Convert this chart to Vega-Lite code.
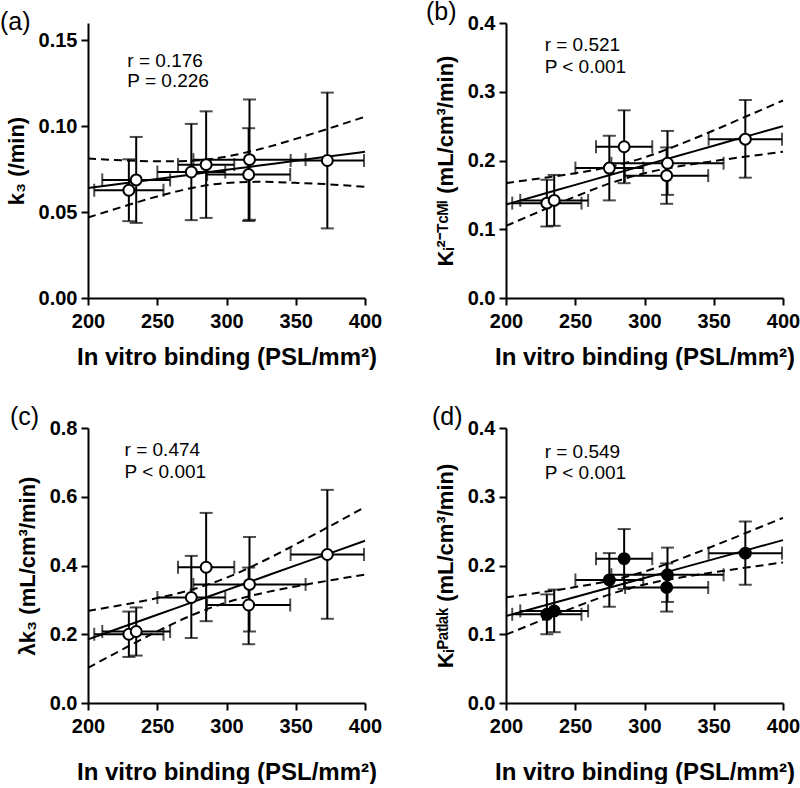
{
  "$schema": "https://vega.github.io/schema/vega-lite/v6.json",
  "padding": 0,
  "background": "white",
  "datasets": {
    "pts": [
      {"panel": "a", "x": 229.5, "xlo": 204.5, "xhi": 254.5, "y": 0.0627, "ylo": 0.0447, "yhi": 0.0807},
      {"panel": "a", "x": 234.8, "xlo": 210.3, "xhi": 259.3, "y": 0.0687, "ylo": 0.0437, "yhi": 0.0937},
      {"panel": "a", "x": 274.6, "xlo": 250.1, "xhi": 299.1, "y": 0.0733, "ylo": 0.0453, "yhi": 0.1013},
      {"panel": "a", "x": 285.3, "xlo": 265.0, "xhi": 305.6, "y": 0.0776, "ylo": 0.0466, "yhi": 0.1086},
      {"panel": "a", "x": 316.6, "xlo": 276.1, "xhi": 357.1, "y": 0.0805, "ylo": 0.0455, "yhi": 0.1155},
      {"panel": "a", "x": 316.0, "xlo": 286.0, "xhi": 346.0, "y": 0.0718, "ylo": 0.0448, "yhi": 0.0988},
      {"panel": "a", "x": 372.8, "xlo": 346.3, "xhi": 399.3, "y": 0.0800, "ylo": 0.0405, "yhi": 0.1195},
      {"panel": "b", "x": 229.5, "xlo": 204.5, "xhi": 254.5, "y": 0.138, "ylo": 0.104, "yhi": 0.172},
      {"panel": "b", "x": 234.8, "xlo": 210.3, "xhi": 259.3, "y": 0.142, "ylo": 0.105, "yhi": 0.179},
      {"panel": "b", "x": 274.6, "xlo": 250.1, "xhi": 299.1, "y": 0.189, "ylo": 0.142, "yhi": 0.236},
      {"panel": "b", "x": 285.3, "xlo": 265.0, "xhi": 305.6, "y": 0.220, "ylo": 0.167, "yhi": 0.273},
      {"panel": "b", "x": 316.6, "xlo": 276.1, "xhi": 357.1, "y": 0.196, "ylo": 0.150, "yhi": 0.243},
      {"panel": "b", "x": 316.0, "xlo": 286.0, "xhi": 346.0, "y": 0.178, "ylo": 0.137, "yhi": 0.219},
      {"panel": "b", "x": 372.8, "xlo": 346.3, "xhi": 399.3, "y": 0.231, "ylo": 0.175, "yhi": 0.288},
      {"panel": "c", "x": 229.5, "xlo": 204.5, "xhi": 254.5, "y": 0.200, "ylo": 0.134, "yhi": 0.266},
      {"panel": "c", "x": 234.8, "xlo": 210.3, "xhi": 259.3, "y": 0.208, "ylo": 0.138, "yhi": 0.278},
      {"panel": "c", "x": 274.6, "xlo": 250.1, "xhi": 299.1, "y": 0.307, "ylo": 0.189, "yhi": 0.428},
      {"panel": "c", "x": 285.3, "xlo": 265.0, "xhi": 305.6, "y": 0.395, "ylo": 0.238, "yhi": 0.553},
      {"panel": "c", "x": 316.6, "xlo": 276.1, "xhi": 357.1, "y": 0.345, "ylo": 0.208, "yhi": 0.483},
      {"panel": "c", "x": 316.0, "xlo": 286.0, "xhi": 346.0, "y": 0.285, "ylo": 0.171, "yhi": 0.394},
      {"panel": "c", "x": 372.8, "xlo": 346.3, "xhi": 399.3, "y": 0.432, "ylo": 0.245, "yhi": 0.620},
      {"panel": "d", "x": 229.5, "xlo": 204.5, "xhi": 254.5, "y": 0.129, "ylo": 0.100, "yhi": 0.158},
      {"panel": "d", "x": 234.8, "xlo": 210.3, "xhi": 259.3, "y": 0.134, "ylo": 0.103, "yhi": 0.165},
      {"panel": "d", "x": 274.6, "xlo": 250.1, "xhi": 299.1, "y": 0.179, "ylo": 0.140, "yhi": 0.218},
      {"panel": "d", "x": 285.3, "xlo": 265.0, "xhi": 305.6, "y": 0.210, "ylo": 0.166, "yhi": 0.253},
      {"panel": "d", "x": 316.6, "xlo": 276.1, "xhi": 357.1, "y": 0.1865, "ylo": 0.147, "yhi": 0.226},
      {"panel": "d", "x": 316.0, "xlo": 286.0, "xhi": 346.0, "y": 0.168, "ylo": 0.133, "yhi": 0.203},
      {"panel": "d", "x": 372.8, "xlo": 346.3, "xhi": 399.3, "y": 0.218, "ylo": 0.172, "yhi": 0.264}
    ],
    "fit": [
      {"panel": "a", "x": 200, "y": 0.0640, "lo": 0.0468, "hi": 0.0812},
      {"panel": "a", "x": 225, "y": 0.0666, "lo": 0.0531, "hi": 0.0801},
      {"panel": "a", "x": 250, "y": 0.0693, "lo": 0.0591, "hi": 0.0795},
      {"panel": "a", "x": 275, "y": 0.0719, "lo": 0.0640, "hi": 0.0798},
      {"panel": "a", "x": 300, "y": 0.0746, "lo": 0.0669, "hi": 0.0823},
      {"panel": "a", "x": 325, "y": 0.0772, "lo": 0.0676, "hi": 0.0868},
      {"panel": "a", "x": 350, "y": 0.0798, "lo": 0.0670, "hi": 0.0926},
      {"panel": "a", "x": 375, "y": 0.0825, "lo": 0.0661, "hi": 0.0989},
      {"panel": "a", "x": 400, "y": 0.0851, "lo": 0.0647, "hi": 0.1055},
      {"panel": "b", "x": 200, "y": 0.1360, "lo": 0.1048, "hi": 0.1672},
      {"panel": "b", "x": 225, "y": 0.1503, "lo": 0.1265, "hi": 0.1741},
      {"panel": "b", "x": 250, "y": 0.1645, "lo": 0.1475, "hi": 0.1815},
      {"panel": "b", "x": 275, "y": 0.1788, "lo": 0.1668, "hi": 0.1908},
      {"panel": "b", "x": 300, "y": 0.1930, "lo": 0.1815, "hi": 0.2045},
      {"panel": "b", "x": 325, "y": 0.2073, "lo": 0.1915, "hi": 0.2231},
      {"panel": "b", "x": 350, "y": 0.2215, "lo": 0.1992, "hi": 0.2438},
      {"panel": "b", "x": 375, "y": 0.2358, "lo": 0.2061, "hi": 0.2655},
      {"panel": "b", "x": 400, "y": 0.2500, "lo": 0.2127, "hi": 0.2873},
      {"panel": "c", "x": 200, "y": 0.1850, "lo": 0.1020, "hi": 0.2680},
      {"panel": "c", "x": 225, "y": 0.2209, "lo": 0.1563, "hi": 0.2855},
      {"panel": "c", "x": 250, "y": 0.2568, "lo": 0.2084, "hi": 0.3052},
      {"panel": "c", "x": 275, "y": 0.2926, "lo": 0.2554, "hi": 0.3298},
      {"panel": "c", "x": 300, "y": 0.3285, "lo": 0.2925, "hi": 0.3645},
      {"panel": "c", "x": 325, "y": 0.3644, "lo": 0.3188, "hi": 0.4100},
      {"panel": "c", "x": 350, "y": 0.4003, "lo": 0.3391, "hi": 0.4615},
      {"panel": "c", "x": 375, "y": 0.4361, "lo": 0.3569, "hi": 0.5153},
      {"panel": "c", "x": 400, "y": 0.4720, "lo": 0.3736, "hi": 0.5704},
      {"panel": "d", "x": 200, "y": 0.1265, "lo": 0.0995, "hi": 0.1535},
      {"panel": "d", "x": 225, "y": 0.1403, "lo": 0.1198, "hi": 0.1608},
      {"panel": "d", "x": 250, "y": 0.1541, "lo": 0.1396, "hi": 0.1686},
      {"panel": "d", "x": 275, "y": 0.1679, "lo": 0.1580, "hi": 0.1779},
      {"panel": "d", "x": 300, "y": 0.1817, "lo": 0.1723, "hi": 0.1911},
      {"panel": "d", "x": 325, "y": 0.1955, "lo": 0.1821, "hi": 0.2089},
      {"panel": "d", "x": 350, "y": 0.2093, "lo": 0.1901, "hi": 0.2285},
      {"panel": "d", "x": 375, "y": 0.2231, "lo": 0.1974, "hi": 0.2488},
      {"panel": "d", "x": 400, "y": 0.2369, "lo": 0.2045, "hi": 0.2693}
    ],
    "notes": [
      {"panel": "a", "x": 228.4, "y": 0.1346, "text": "r = 0.176"},
      {"panel": "a", "x": 228.4, "y": 0.1227, "text": "P = 0.226"},
      {"panel": "b", "x": 227.9, "y": 0.3589, "text": "r = 0.521"},
      {"panel": "b", "x": 227.9, "y": 0.3273, "text": "P < 0.001"},
      {"panel": "c", "x": 226.4, "y": 0.719, "text": "r = 0.474"},
      {"panel": "c", "x": 226.4, "y": 0.655, "text": "P < 0.001"},
      {"panel": "d", "x": 227.9, "y": 0.357, "text": "r = 0.549"},
      {"panel": "d", "x": 227.9, "y": 0.3255, "text": "P < 0.001"}
    ]
  },
  "config": {
    "font": "Liberation Sans",
    "view": {"stroke": null},
    "axis": {
      "grid": false,
      "domainColor": "black",
      "domainWidth": 2,
      "tickColor": "black",
      "tickWidth": 2,
      "tickSize": 7,
      "labelFont": "Liberation Sans",
      "labelFontSize": 20,
      "labelFontWeight": "bold",
      "labelColor": "black",
      "labelFlush": false,
      "labelPadding": 4,
      "titleFont": "Liberation Sans",
      "titleFontSize": 22,
      "titleFontWeight": "bold",
      "titleColor": "black"
    },
    "axisX": {"titlePadding": 14, "titleFontSize": 24, "labelPadding": 6},
    "axisY": {"titlePadding": 10},
    "title": {"font": "Liberation Sans", "fontSize": 25, "fontWeight": "normal", "color": "black", "anchor": "start", "frame": "group", "offset": -12}
  },
  "columns": 2,
  "bounds": "flush",
  "spacing": {"row": 130, "column": 141},
  "concat": [
    {
      "width": 277, "height": 275,
      "title": {"text": "(a)", "dx": -88},
      "layer": [
        {"data": {"name": "pts"}, "transform": [{"filter": "datum.panel === 'a'"}],
         "mark": {"type": "errorbar", "ticks": {"size": 13}, "thickness": 2, "color": "black"},
         "encoding": {
           "x": {"field": "xlo", "type": "quantitative", "scale": {"domain": [200, 400]}, "axis": {"values": [200, 250, 300, 350, 400], "title": "In vitro binding (PSL/mm²)"}},
           "x2": {"field": "xhi"},
           "y": {"field": "y", "type": "quantitative", "scale": {"domain": [0, 0.15]}, "axis": {"values": [0, 0.05, 0.1, 0.15], "format": ".2f", "title": "k₃ (/min)"}}}},
        {"data": {"name": "pts"}, "transform": [{"filter": "datum.panel === 'a'"}],
         "mark": {"type": "errorbar", "ticks": {"size": 13}, "thickness": 2, "color": "black"},
         "encoding": {
           "x": {"field": "x", "type": "quantitative", "scale": {"domain": [200, 400]}, "axis": {"values": [200, 250, 300, 350, 400], "title": "In vitro binding (PSL/mm²)"}},
           "y": {"field": "ylo", "type": "quantitative", "scale": {"domain": [0, 0.15]}, "axis": {"values": [0, 0.05, 0.1, 0.15], "format": ".2f", "title": "k₃ (/min)"}},
           "y2": {"field": "yhi"}}},
        {"data": {"name": "fit"}, "transform": [{"filter": "datum.panel === 'a'"}],
         "mark": {"type": "line", "color": "black", "strokeWidth": 2, "interpolate": "monotone"},
         "encoding": {"x": {"field": "x", "type": "quantitative"}, "y": {"field": "y", "type": "quantitative"}}},
        {"data": {"name": "fit"}, "transform": [{"filter": "datum.panel === 'a'"}],
         "mark": {"type": "line", "color": "black", "strokeWidth": 2, "strokeDash": [8, 5], "interpolate": "monotone"},
         "encoding": {"x": {"field": "x", "type": "quantitative"}, "y": {"field": "hi", "type": "quantitative"}}},
        {"data": {"name": "fit"}, "transform": [{"filter": "datum.panel === 'a'"}],
         "mark": {"type": "line", "color": "black", "strokeWidth": 2, "strokeDash": [8, 5], "interpolate": "monotone"},
         "encoding": {"x": {"field": "x", "type": "quantitative"}, "y": {"field": "lo", "type": "quantitative"}}},
        {"data": {"name": "pts"}, "transform": [{"filter": "datum.panel === 'a'"}],
         "mark": {"type": "point", "shape": "circle", "filled": true, "fill": "white", "stroke": "black", "strokeWidth": 2, "size": 120, "opacity": 1},
         "encoding": {"x": {"field": "x", "type": "quantitative"}, "y": {"field": "y", "type": "quantitative"}}},
        {"data": {"name": "notes"}, "transform": [{"filter": "datum.panel === 'a'"}],
         "mark": {"type": "text", "align": "left", "baseline": "alphabetic", "fontSize": 19, "color": "black", "font": "Liberation Sans"},
         "encoding": {"x": {"field": "x", "type": "quantitative"}, "y": {"field": "y", "type": "quantitative"}, "text": {"field": "text"}}}
      ]
    },
    {
      "width": 277, "height": 275,
      "title": {"text": "(b)", "dx": -80},
      "layer": [
        {"data": {"name": "pts"}, "transform": [{"filter": "datum.panel === 'b'"}],
         "mark": {"type": "errorbar", "ticks": {"size": 13}, "thickness": 2, "color": "black"},
         "encoding": {
           "x": {"field": "xlo", "type": "quantitative", "scale": {"domain": [200, 400]}, "axis": {"values": [200, 250, 300, 350, 400], "title": "In vitro binding (PSL/mm²)"}},
           "x2": {"field": "xhi"},
           "y": {"field": "y", "type": "quantitative", "scale": {"domain": [0, 0.4]}, "axis": {"values": [0, 0.1, 0.2, 0.3, 0.4], "format": ".1f", "title": "Kᵢ²⁻ᵀᶜᴹⁱ (mL/cm³/min)"}}}},
        {"data": {"name": "pts"}, "transform": [{"filter": "datum.panel === 'b'"}],
         "mark": {"type": "errorbar", "ticks": {"size": 13}, "thickness": 2, "color": "black"},
         "encoding": {
           "x": {"field": "x", "type": "quantitative", "scale": {"domain": [200, 400]}, "axis": {"values": [200, 250, 300, 350, 400], "title": "In vitro binding (PSL/mm²)"}},
           "y": {"field": "ylo", "type": "quantitative", "scale": {"domain": [0, 0.4]}, "axis": {"values": [0, 0.1, 0.2, 0.3, 0.4], "format": ".1f", "title": "Kᵢ²⁻ᵀᶜᴹⁱ (mL/cm³/min)"}},
           "y2": {"field": "yhi"}}},
        {"data": {"name": "fit"}, "transform": [{"filter": "datum.panel === 'b'"}],
         "mark": {"type": "line", "color": "black", "strokeWidth": 2, "interpolate": "monotone"},
         "encoding": {"x": {"field": "x", "type": "quantitative"}, "y": {"field": "y", "type": "quantitative"}}},
        {"data": {"name": "fit"}, "transform": [{"filter": "datum.panel === 'b'"}],
         "mark": {"type": "line", "color": "black", "strokeWidth": 2, "strokeDash": [8, 5], "interpolate": "monotone"},
         "encoding": {"x": {"field": "x", "type": "quantitative"}, "y": {"field": "hi", "type": "quantitative"}}},
        {"data": {"name": "fit"}, "transform": [{"filter": "datum.panel === 'b'"}],
         "mark": {"type": "line", "color": "black", "strokeWidth": 2, "strokeDash": [8, 5], "interpolate": "monotone"},
         "encoding": {"x": {"field": "x", "type": "quantitative"}, "y": {"field": "lo", "type": "quantitative"}}},
        {"data": {"name": "pts"}, "transform": [{"filter": "datum.panel === 'b'"}],
         "mark": {"type": "point", "shape": "circle", "filled": true, "fill": "white", "stroke": "black", "strokeWidth": 2, "size": 120, "opacity": 1},
         "encoding": {"x": {"field": "x", "type": "quantitative"}, "y": {"field": "y", "type": "quantitative"}}},
        {"data": {"name": "notes"}, "transform": [{"filter": "datum.panel === 'b'"}],
         "mark": {"type": "text", "align": "left", "baseline": "alphabetic", "fontSize": 19, "color": "black", "font": "Liberation Sans"},
         "encoding": {"x": {"field": "x", "type": "quantitative"}, "y": {"field": "y", "type": "quantitative"}, "text": {"field": "text"}}}
      ]
    },
    {
      "width": 277, "height": 275,
      "title": {"text": "(c)", "dx": -78},
      "layer": [
        {"data": {"name": "pts"}, "transform": [{"filter": "datum.panel === 'c'"}],
         "mark": {"type": "errorbar", "ticks": {"size": 13}, "thickness": 2, "color": "black"},
         "encoding": {
           "x": {"field": "xlo", "type": "quantitative", "scale": {"domain": [200, 400]}, "axis": {"values": [200, 250, 300, 350, 400], "title": "In vitro binding (PSL/mm²)", "titlePadding": 24}},
           "x2": {"field": "xhi"},
           "y": {"field": "y", "type": "quantitative", "scale": {"domain": [0, 0.8]}, "axis": {"values": [0, 0.2, 0.4, 0.6, 0.8], "format": ".1f", "title": "λk₃ (mL/cm³/min)"}}}},
        {"data": {"name": "pts"}, "transform": [{"filter": "datum.panel === 'c'"}],
         "mark": {"type": "errorbar", "ticks": {"size": 13}, "thickness": 2, "color": "black"},
         "encoding": {
           "x": {"field": "x", "type": "quantitative", "scale": {"domain": [200, 400]}, "axis": {"values": [200, 250, 300, 350, 400], "title": "In vitro binding (PSL/mm²)", "titlePadding": 24}},
           "y": {"field": "ylo", "type": "quantitative", "scale": {"domain": [0, 0.8]}, "axis": {"values": [0, 0.2, 0.4, 0.6, 0.8], "format": ".1f", "title": "λk₃ (mL/cm³/min)"}},
           "y2": {"field": "yhi"}}},
        {"data": {"name": "fit"}, "transform": [{"filter": "datum.panel === 'c'"}],
         "mark": {"type": "line", "color": "black", "strokeWidth": 2, "interpolate": "monotone"},
         "encoding": {"x": {"field": "x", "type": "quantitative"}, "y": {"field": "y", "type": "quantitative"}}},
        {"data": {"name": "fit"}, "transform": [{"filter": "datum.panel === 'c'"}],
         "mark": {"type": "line", "color": "black", "strokeWidth": 2, "strokeDash": [8, 5], "interpolate": "monotone"},
         "encoding": {"x": {"field": "x", "type": "quantitative"}, "y": {"field": "hi", "type": "quantitative"}}},
        {"data": {"name": "fit"}, "transform": [{"filter": "datum.panel === 'c'"}],
         "mark": {"type": "line", "color": "black", "strokeWidth": 2, "strokeDash": [8, 5], "interpolate": "monotone"},
         "encoding": {"x": {"field": "x", "type": "quantitative"}, "y": {"field": "lo", "type": "quantitative"}}},
        {"data": {"name": "pts"}, "transform": [{"filter": "datum.panel === 'c'"}],
         "mark": {"type": "point", "shape": "circle", "filled": true, "fill": "white", "stroke": "black", "strokeWidth": 2, "size": 120, "opacity": 1},
         "encoding": {"x": {"field": "x", "type": "quantitative"}, "y": {"field": "y", "type": "quantitative"}}},
        {"data": {"name": "notes"}, "transform": [{"filter": "datum.panel === 'c'"}],
         "mark": {"type": "text", "align": "left", "baseline": "alphabetic", "fontSize": 19, "color": "black", "font": "Liberation Sans"},
         "encoding": {"x": {"field": "x", "type": "quantitative"}, "y": {"field": "y", "type": "quantitative"}, "text": {"field": "text"}}}
      ]
    },
    {
      "width": 277, "height": 275,
      "title": {"text": "(d)", "dx": -74},
      "layer": [
        {"data": {"name": "pts"}, "transform": [{"filter": "datum.panel === 'd'"}],
         "mark": {"type": "errorbar", "ticks": {"size": 13}, "thickness": 2, "color": "black"},
         "encoding": {
           "x": {"field": "xlo", "type": "quantitative", "scale": {"domain": [200, 400]}, "axis": {"values": [200, 250, 300, 350, 400], "title": "In vitro binding (PSL/mm²)", "titlePadding": 24}},
           "x2": {"field": "xhi"},
           "y": {"field": "y", "type": "quantitative", "scale": {"domain": [0, 0.4]}, "axis": {"values": [0, 0.1, 0.2, 0.3, 0.4], "format": ".1f", "title": "Kᵢᴾᵃᵗˡᵃᵏ (mL/cm³/min)"}}}},
        {"data": {"name": "pts"}, "transform": [{"filter": "datum.panel === 'd'"}],
         "mark": {"type": "errorbar", "ticks": {"size": 13}, "thickness": 2, "color": "black"},
         "encoding": {
           "x": {"field": "x", "type": "quantitative", "scale": {"domain": [200, 400]}, "axis": {"values": [200, 250, 300, 350, 400], "title": "In vitro binding (PSL/mm²)", "titlePadding": 24}},
           "y": {"field": "ylo", "type": "quantitative", "scale": {"domain": [0, 0.4]}, "axis": {"values": [0, 0.1, 0.2, 0.3, 0.4], "format": ".1f", "title": "Kᵢᴾᵃᵗˡᵃᵏ (mL/cm³/min)"}},
           "y2": {"field": "yhi"}}},
        {"data": {"name": "fit"}, "transform": [{"filter": "datum.panel === 'd'"}],
         "mark": {"type": "line", "color": "black", "strokeWidth": 2, "interpolate": "monotone"},
         "encoding": {"x": {"field": "x", "type": "quantitative"}, "y": {"field": "y", "type": "quantitative"}}},
        {"data": {"name": "fit"}, "transform": [{"filter": "datum.panel === 'd'"}],
         "mark": {"type": "line", "color": "black", "strokeWidth": 2, "strokeDash": [8, 5], "interpolate": "monotone"},
         "encoding": {"x": {"field": "x", "type": "quantitative"}, "y": {"field": "hi", "type": "quantitative"}}},
        {"data": {"name": "fit"}, "transform": [{"filter": "datum.panel === 'd'"}],
         "mark": {"type": "line", "color": "black", "strokeWidth": 2, "strokeDash": [8, 5], "interpolate": "monotone"},
         "encoding": {"x": {"field": "x", "type": "quantitative"}, "y": {"field": "lo", "type": "quantitative"}}},
        {"data": {"name": "pts"}, "transform": [{"filter": "datum.panel === 'd'"}],
         "mark": {"type": "point", "shape": "circle", "filled": true, "fill": "black", "stroke": "black", "strokeWidth": 2, "size": 120, "opacity": 1},
         "encoding": {"x": {"field": "x", "type": "quantitative"}, "y": {"field": "y", "type": "quantitative"}}},
        {"data": {"name": "notes"}, "transform": [{"filter": "datum.panel === 'd'"}],
         "mark": {"type": "text", "align": "left", "baseline": "alphabetic", "fontSize": 19, "color": "black", "font": "Liberation Sans"},
         "encoding": {"x": {"field": "x", "type": "quantitative"}, "y": {"field": "y", "type": "quantitative"}, "text": {"field": "text"}}}
      ]
    }
  ]
}
